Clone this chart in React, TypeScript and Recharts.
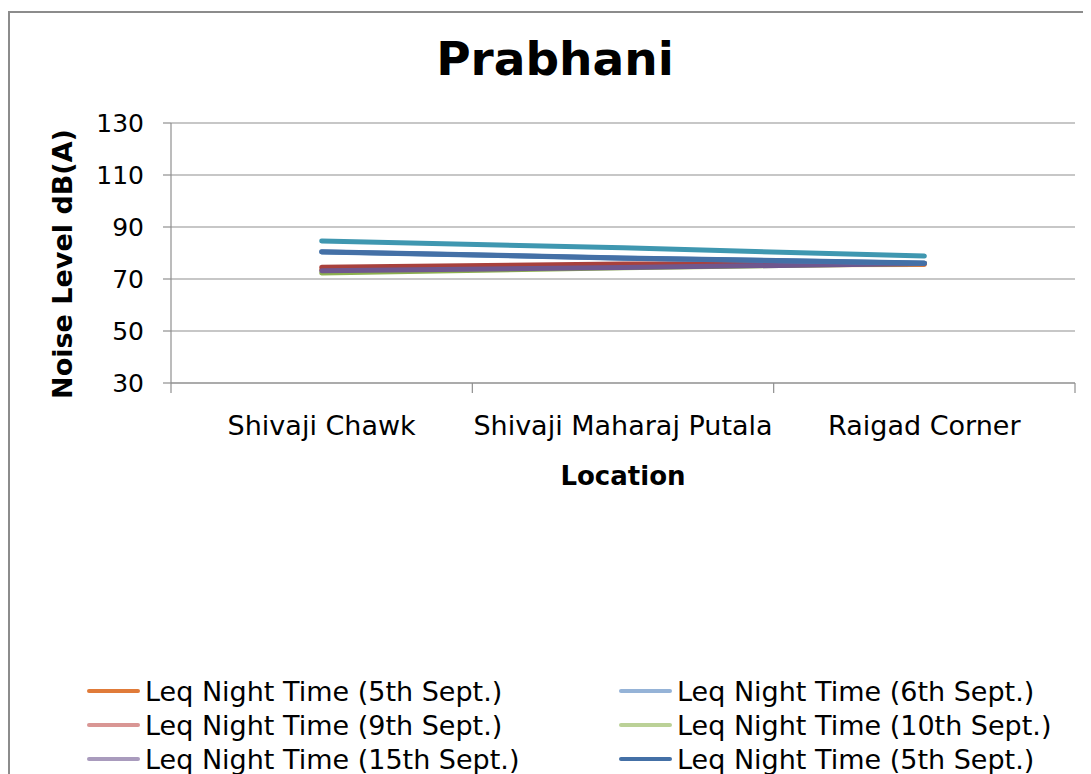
import React from "react";
import { LineChart, Line, XAxis, YAxis, CartesianGrid, Legend } from "recharts";

const locations = ["Shivaji Chawk", "Shivaji Maharaj Putala", "Raigad Corner"];
const yTicks = [30, 50, 70, 90, 110, 130];

const night5 = [73.6, 75.3, 75.6];
const night6 = [80.4, 78.0, 76.1];
const night9 = [74.5, 75.8, 76.0];
const night10 = [72.3, 74.3, 76.0];
const night15 = [73.2, 74.4, 76.0];
const night5b = [80.5, 78.1, 76.2];
const night16 = [84.6, 82.0, 78.8];

const seriesNames = [
  "Leq Night Time (5th Sept.)",
  "Leq Night Time (6th Sept.)",
  "Leq Night Time (9th Sept.)",
  "Leq Night Time (10th Sept.)",
  "Leq Night Time (15th Sept.)",
  "Leq Night Time (5th Sept.)",
  "Leq Night Time (16th Sept.)",
];
const seriesValues = [night5, night6, night9, night10, night15, night5b, night16];
const legendColors = ["#E07B39", "#95B3D7", "#D99694", "#BBD197", "#A99BBD", "#4470A6", "#4BACC6"];
const lineColors = ["#E07B39", "#4A7AB2", "#A8413D", "#8DB04F", "#6F578E", "#4470A6", "#3F97B0"];
const drawOrder = [0, 3, 2, 4, 1, 5, 6];

const data = locations.map((loc, i) => {
  const row: any = { pos: i + 0.5, location: loc };
  seriesValues.forEach((vals, s) => {
    row["s" + s] = vals[i];
  });
  return row;
});

const FONT = "'DejaVu Sans', Verdana, sans-serif";

const CatTick = (props: any) => {
  const { x, y, payload } = props;
  const idx = Math.floor(payload.value);
  return (
    <text x={x} y={y + 43} textAnchor="middle" fontFamily={FONT} fontSize={27} fill="#000">
      {locations[idx]}
    </text>
  );
};

const EmptyTick = () => <g />;

const LegendContent = () => (
  <div
    style={{
      height: 150,
      paddingTop: 21,
      paddingLeft: 77,
      boxSizing: "border-box",
      display: "grid",
      gridTemplateColumns: "532px 480px",
      gridAutoRows: "34px",
      fontFamily: FONT,
      fontSize: 27,
      color: "#000",
    }}
  >
    {seriesNames.map((name, i) => (
      <div key={i} style={{ display: "flex", alignItems: "center", whiteSpace: "nowrap" }}>
        <span
          style={{
            display: "inline-block",
            width: 53,
            height: 4,
            borderRadius: 2,
            background: legendColors[i],
            marginRight: 5,
          }}
        />
        <span>{name}</span>
      </div>
    ))}
  </div>
);

export default function App() {
  return (
    <div
      style={{
        position: "relative",
        marginTop: 3,
        width: 1100,
        height: 790,
        borderTop: "2px solid #8c8c8c",
        borderLeft: "2px solid #8c8c8c",
        background: "#fff",
      }}
    >
      <svg style={{ position: "absolute", left: 0, top: 0, zIndex: 2, pointerEvents: "none" }} width={1090} height={100}>
        <text x={545} y={62} textAnchor="middle" fontFamily={FONT} fontWeight="bold" fontSize={47} fill="#000">
          Prabhani
        </text>
      </svg>
      <LineChart width={1090} height={790} data={data} margin={{ top: 110, right: 25, left: 0, bottom: 0 }}>
        <CartesianGrid horizontal vertical={false} stroke="#8f8f8f" strokeWidth={1.2} />
        <XAxis
          xAxisId="a0"
          type="number"
          dataKey="pos"
          domain={[0, 3]}
          allowDataOverflow
          ticks={[0, 1, 2, 3]}
          tick={<EmptyTick />}
          tickSize={10}
          height={9}
          stroke="#8f8f8f"
          axisLine={{ stroke: "#8f8f8f", strokeWidth: 1.2 }}
          tickLine={{ stroke: "#8f8f8f", strokeWidth: 1.2 }}
        />
        <XAxis
          xAxisId="b1"
          type="number"
          dataKey="pos"
          domain={[0, 3]}
          allowDataOverflow
          ticks={[0.5, 1.5, 2.5]}
          axisLine={false}
          tickLine={false}
          tickSize={0}
          tickMargin={0}
          height={261}
          tick={<CatTick />}
          label={(p: any) => {
            const vb = p.viewBox;
            return (
              <text
                x={vb.x + vb.width / 2}
                y={vb.y + 93}
                textAnchor="middle"
                fontFamily={FONT}
                fontWeight="bold"
                fontSize={26}
                fill="#000"
              >
                Location
              </text>
            );
          }}
        />
        <YAxis
          type="number"
          domain={[30, 130]}
          ticks={yTicks}
          width={161}
          tickSize={8}
          tickMargin={19}
          axisLine={{ stroke: "#8f8f8f", strokeWidth: 1.2 }}
          tickLine={{ stroke: "#8f8f8f", strokeWidth: 1.2 }}
          tick={{ fontFamily: FONT, fontSize: 25, fill: "#000" }}
          label={() => {
            const cx = 52;
            const cy = 251;
            return (
              <text
                x={cx}
                y={cy}
                transform={`rotate(-90 ${cx} ${cy})`}
                textAnchor="middle"
                dominantBaseline="central"
                fontFamily={FONT}
                fontWeight="bold"
                fontSize={27}
                fill="#000"
              >
                Noise Level dB(A)
              </text>
            );
          }}
        />
        <Legend
          verticalAlign="bottom"
          content={<LegendContent />}
          wrapperStyle={{ left: 0, width: 1090, height: 150 }}
        />
        {drawOrder.map((s) => (
          <Line
            key={s}
            xAxisId="a0"
            type="linear"
            dataKey={"s" + s}
            name={seriesNames[s]}
            stroke={lineColors[s]}
            strokeWidth={5}
            strokeLinecap="round"
            dot={false}
            activeDot={false}
            isAnimationActive={false}
            legendType="none"
          />
        ))}
      </LineChart>
    </div>
  );
}
